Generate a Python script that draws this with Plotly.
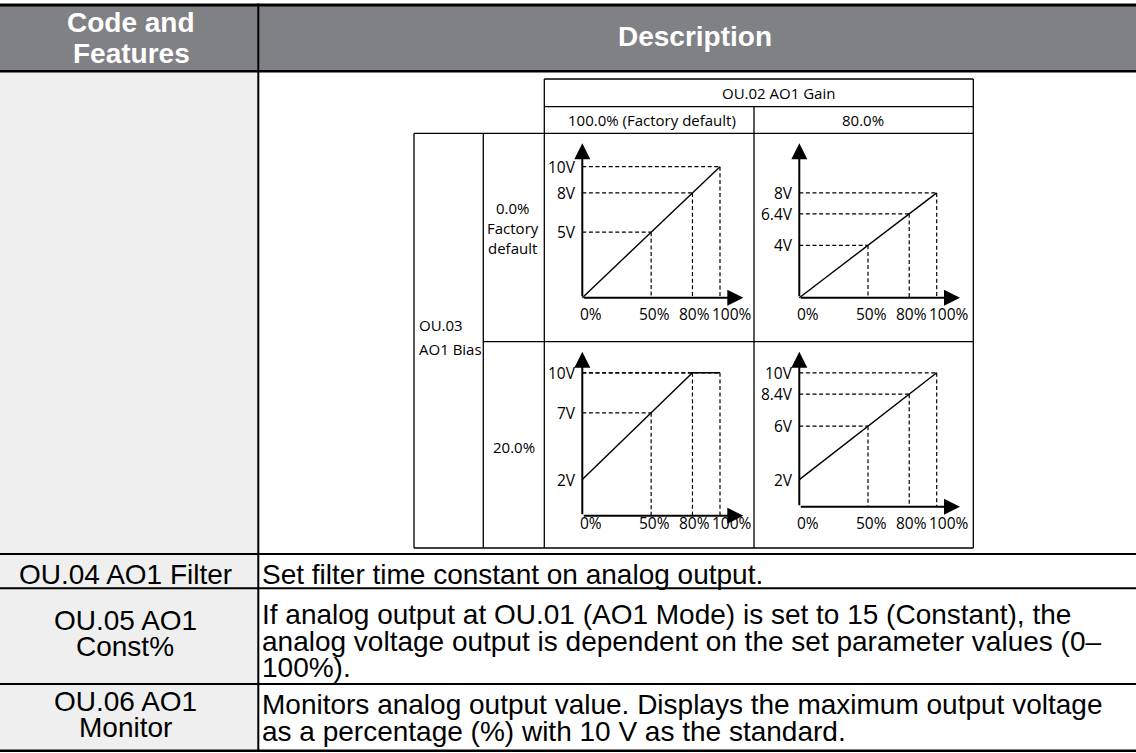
import plotly.graph_objects as go

W, H = 1136, 753

# ---------------- data ----------------
header_code = ["Code and", "Features"]
header_desc = "Description"
gain_title = "OU.02 AO1 Gain"
gain_options = ["100.0% (Factory default)", "80.0%"]
bias_title = ["OU.03", "AO1 Bias"]
bias_options = [["0.0%", "Factory", "default"], ["20.0%"]]

pct_points = [0, 50, 80, 100]
pct_labels = ["0%", "50%", "80%", "100%"]

volts_gain100_bias0 = [0, 5, 8, 10]
volts_gain80_bias0 = [0, 4, 6.4, 8]
volts_gain100_bias20 = [2, 7, 10, 10]
volts_gain80_bias20 = [2, 6, 8.4, 10]

vticks_gain100_bias0 = [10, 8, 5]
vticks_gain80_bias0 = [8, 6.4, 4]
vticks_gain100_bias20 = [10, 7, 2]
vticks_gain80_bias20 = [10, 8.4, 6, 2]

row_codes = [["OU.04 AO1 Filter"], ["OU.05 AO1", "Const%"], ["OU.06 AO1", "Monitor"]]
row_descs = [
    ["Set filter time constant on analog output."],
    ["If analog output at OU.01 (AO1 Mode) is set to 15 (Constant), the",
     "analog voltage output is dependent on the set parameter values (0\u2013",
     "100%)."],
    ["Monitors analog output value. Displays the maximum output voltage",
     "as a percentage (%) with 10 V as the standard."],
]

# ---------------- layout helpers ----------------
def fx(p):
    return p / W


def fy(p):
    return 1 - p / H


BODY_FONT = "Arial, Liberation Sans, sans-serif"
DIAG_FONT = "Open Sans, Noto Sans, sans-serif"
BODY_SIZE = 28
DIAG_SIZE = 15
TICK_SIZE = 15.5

shapes = []
annotations = []


def rect(x0, y0, x1, y1, color):
    shapes.append(dict(type="rect", xref="paper", yref="paper",
                       x0=fx(x0), x1=fx(x1), y0=fy(y1), y1=fy(y0),
                       fillcolor=color, line=dict(width=0), layer="below"))


def hline(x0, x1, y, w, color="black"):
    shapes.append(dict(type="line", xref="paper", yref="paper",
                       x0=fx(x0), x1=fx(x1), y0=fy(y), y1=fy(y),
                       line=dict(color=color, width=w)))


def vline(x, y0, y1, w, color="black"):
    shapes.append(dict(type="line", xref="paper", yref="paper",
                       x0=fx(x), x1=fx(x), y0=fy(y0), y1=fy(y1),
                       line=dict(color=color, width=w)))


def text(x, y, s, size, family, color="black", anchor="center", bold=False):
    annotations.append(dict(xref="paper", yref="paper", x=fx(x), y=fy(y),
                            text=f"<b>{s}</b>" if bold else s, showarrow=False,
                            xanchor=anchor, yanchor="middle", borderpad=0,
                            font=dict(size=size, family=family, color=color)))


# ---------------- table frame ----------------
COL_X = 258.3
rect(0, 5, W, 71, "#808185")          # header band
rect(0, 72, COL_X, 751, "#efefef")     # left column body

hline(0, W, 5, 3)
hline(0, W, 71.3, 2.5)
for yy in [554, 588.3, 684]:
    hline(0, W, yy, 2)
hline(0, W, 750.7, 2.5)
vline(COL_X, 3.5, 752, 2)

text(131, 23, header_code[0], 28, BODY_FONT, "white", bold=True)
text(131, 53, header_code[1], 28, BODY_FONT, "white", bold=True)
text(695, 37, header_desc, 28, BODY_FONT, "white", bold=True)

code_y = [[574], [620.5, 646], [701, 727.5]]
desc_y = [[574], [614, 641, 667.5], [704, 731.5]]
for lines, ys in zip(row_codes, code_y):
    for s, yy in zip(lines, ys):
        text(125, yy, s, BODY_SIZE, BODY_FONT)
for lines, ys in zip(row_descs, desc_y):
    for s, yy in zip(lines, ys):
        text(261, yy, s, BODY_SIZE, BODY_FONT, anchor="left")

# ---------------- diagram frame ----------------
DW = 1.3
hline(544.3, 973.3, 79, DW)
hline(544.3, 973.3, 106.7, DW)
hline(414, 973.3, 133.3, DW)
hline(483.3, 973.3, 341.7, DW)
hline(414, 973.3, 548, DW)
vline(414, 133.3, 548, DW)
vline(483.3, 133.3, 548, DW)
vline(544.3, 79, 548, DW)
vline(754, 106.7, 548, DW)
vline(973.3, 79, 548, DW)

text(778, 93, gain_title, DIAG_SIZE, DIAG_FONT)
text(652, 120, gain_options[0], DIAG_SIZE, DIAG_FONT)
text(863, 120, gain_options[1], DIAG_SIZE, DIAG_FONT)
text(418, 325, bias_title[0], DIAG_SIZE, DIAG_FONT, anchor="left")
text(418, 349, bias_title[1], DIAG_SIZE, DIAG_FONT, anchor="left")
for s, yy in zip(bias_options[0], [208, 228, 248]):
    text(512.5, yy, s, DIAG_SIZE, DIAG_FONT)
text(514, 447, bias_options[1][0], DIAG_SIZE, DIAG_FONT)

# ---------------- the four small charts ----------------
panels = [
    dict(volts=volts_gain100_bias0, vt=vticks_gain100_bias0, ox=582.3, oy=297.7,
         sx=1.377, sy=13.1, axis_px=297.7, tip_x=743.3, tip_y=143.3, lab_y=314),
    dict(volts=volts_gain80_bias0, vt=vticks_gain80_bias0, ox=799.3, oy=297.7,
         sx=1.374, sy=13.1, axis_px=297.7, tip_x=960.0, tip_y=143.3, lab_y=314),
    dict(volts=volts_gain100_bias20, vt=vticks_gain100_bias20, ox=582.3, oy=506.3,
         sx=1.377, sy=13.35, axis_px=515.7, tip_x=743.3, tip_y=351.7, lab_y=523),
    dict(volts=volts_gain80_bias20, vt=vticks_gain80_bias20, ox=799.3, oy=506.3,
         sx=1.374, sy=13.35, axis_px=506.7, tip_x=960.0, tip_y=351.7, lab_y=523),
]
label_shift = [9, 3, 2, 12]

fig = go.Figure()
layout_axes = {}
for i, pn in enumerate(panels, start=1):
    xa = "x" if i == 1 else f"x{i}"
    ya = "y" if i == 1 else f"y{i}"
    xkey = "xaxis" if i == 1 else f"xaxis{i}"
    ykey = "yaxis" if i == 1 else f"yaxis{i}"
    ox, oy, sx, sy = pn["ox"], pn["oy"], pn["sx"], pn["sy"]
    left, right = ox - 45, pn["tip_x"] + 20
    top, bottom = pn["tip_y"] - 8, pn["lab_y"] + 12
    layout_axes[xkey] = dict(domain=[fx(left), fx(right)],
                             range=[(left - ox) / sx, (right - ox) / sx],
                             visible=False, anchor=ya, fixedrange=True)
    layout_axes[ykey] = dict(domain=[fy(bottom), fy(top)],
                             range=[(oy - bottom) / sy, (oy - top) / sy],
                             visible=False, anchor=xa, fixedrange=True)
    axis_v = (oy - pn["axis_px"]) / sy
    tip_pct = (pn["tip_x"] - ox) / sx
    tip_v = (oy - pn["tip_y"]) / sy

    # dashed guide lines
    dx, dy = [], []
    for p, v in zip(pct_points[1:], pn["volts"][1:]):
        dx += [0, p, None, p, p, None]
        dy += [v, v, None, v, axis_v, None]
    fig.add_trace(go.Scatter(x=dx, y=dy, mode="lines", xaxis=xa, yaxis=ya,
                             line=dict(color="black", width=1.2, dash="4px,2.6px"),
                             hoverinfo="skip", showlegend=False))
    # output characteristic
    fig.add_trace(go.Scatter(x=pct_points, y=pn["volts"], mode="lines",
                             xaxis=xa, yaxis=ya,
                             line=dict(color="black", width=1.4),
                             hoverinfo="skip", showlegend=False))
    # axes with arrowheads
    for hx, hy in [(0, tip_v), (tip_pct, axis_v)]:
        annotations.append(dict(xref=xa, yref=ya, axref=xa, ayref=ya,
                                x=hx, y=hy, ax=0, ay=axis_v, text="",
                                showarrow=True, arrowhead=2, arrowsize=1.6,
                                arrowwidth=2, arrowcolor="black", standoff=0))
    # voltage labels
    for v in pn["vt"]:
        annotations.append(dict(xref=xa, yref=ya, x=0, y=v, text=f"{v:g}V",
                                showarrow=False, xanchor="right", yanchor="middle",
                                xshift=-5, borderpad=0,
                                font=dict(size=TICK_SIZE, family=DIAG_FONT, color="black")))
    # percent labels
    for p, s, sh in zip(pct_points, pct_labels, label_shift):
        annotations.append(dict(xref=xa, yref="paper", x=p, y=fy(pn["lab_y"]), text=s,
                                showarrow=False, xanchor="center", yanchor="middle",
                                xshift=sh, borderpad=0,
                                font=dict(size=TICK_SIZE, family=DIAG_FONT, color="black")))

fig.update_layout(
    width=W, height=H, autosize=False,
    margin=dict(l=0, r=0, t=0, b=0),
    paper_bgcolor="white", plot_bgcolor="rgba(0,0,0,0)",
    showlegend=False,
    shapes=shapes, annotations=annotations,
    **layout_axes,
)

fig.write_html("out.html", config={"displayModeBar": False},
               post_script="document.body.style.margin='0';document.body.style.overflow='hidden';")
